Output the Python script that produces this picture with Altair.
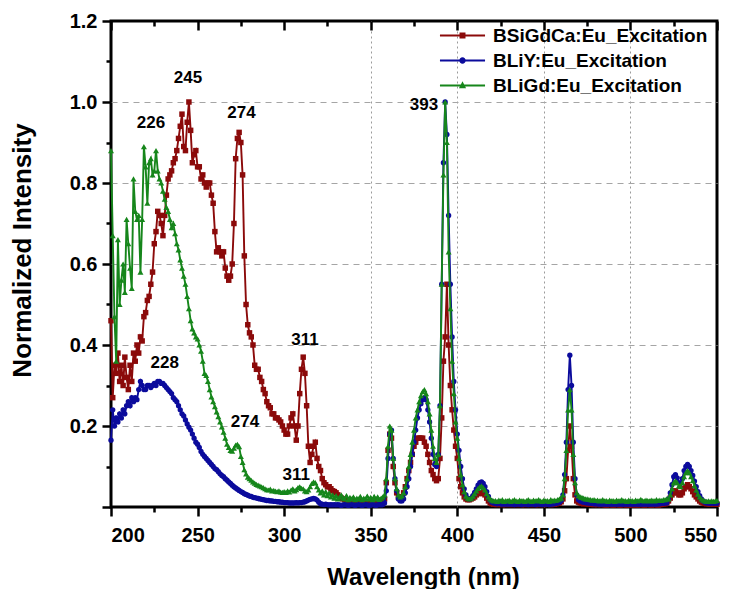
import altair as alt
import pandas as pd

FONT = "Liberation Sans"

wavelength = list(range(200, 551))

bsigdca = [
    0.46, 0.27, 0.35, 0.33, 0.38, 0.31, 0.35, 0.30, 0.37, 0.32,
    0.29, 0.35, 0.31, 0.38, 0.36, 0.40, 0.38, 0.42, 0.41, 0.47,
    0.48, 0.51, 0.52, 0.55, 0.58, 0.65, 0.68, 0.73, 0.72, 0.70,
    0.67, 0.72, 0.77, 0.81, 0.82, 0.83, 0.85, 0.86, 0.88, 0.91,
    0.94, 0.97, 0.89, 0.88, 0.95, 1.00, 0.93, 0.85, 0.87, 0.88,
    0.84, 0.84, 0.81, 0.82, 0.80, 0.79, 0.80, 0.80, 0.77, 0.75,
    0.68, 0.63, 0.64, 0.63, 0.62, 0.63, 0.59, 0.57, 0.56, 0.57,
    0.60, 0.70, 0.86, 0.91, 0.925, 0.90, 0.82, 0.62, 0.50, 0.45,
    0.43, 0.42, 0.40, 0.35, 0.34, 0.34, 0.32, 0.31, 0.29, 0.28,
    0.26, 0.25, 0.245, 0.23, 0.23, 0.22, 0.22, 0.215, 0.21, 0.20,
    0.19, 0.18, 0.18, 0.20, 0.22, 0.23, 0.20, 0.165, 0.20, 0.28,
    0.34, 0.37, 0.33, 0.25, 0.15, 0.11, 0.13, 0.15, 0.16, 0.12,
    0.10, 0.09, 0.07, 0.06, 0.055, 0.05, 0.05, 0.045, 0.04, 0.038,
    0.035, 0.03, 0.025, 0.022, 0.02, 0.018, 0.015, 0.012, 0.014, 0.011,
    0.013, 0.01, 0.012, 0.011, 0.013, 0.01, 0.012, 0.01, 0.011, 0.013,
    0.01, 0.012, 0.011, 0.01, 0.012, 0.011, 0.013, 0.015, 0.02, 0.06,
    0.14, 0.18, 0.17, 0.10, 0.06, 0.035, 0.025, 0.022, 0.025, 0.035,
    0.05, 0.07, 0.09, 0.11, 0.13, 0.15, 0.16, 0.17, 0.17, 0.17,
    0.17, 0.16, 0.15, 0.13, 0.11, 0.09, 0.08, 0.07, 0.065, 0.07,
    0.12, 0.22, 0.36, 0.42, 0.55, 0.40, 0.30, 0.24, 0.19, 0.15,
    0.12, 0.07, 0.05, 0.035, 0.025, 0.02, 0.018, 0.018, 0.02, 0.022,
    0.025, 0.03, 0.033, 0.035, 0.035, 0.033, 0.03, 0.022, 0.015, 0.01,
    0.008, 0.007, 0.008, 0.006, 0.007, 0.008, 0.006, 0.007, 0.006, 0.008,
    0.007, 0.006, 0.008, 0.007, 0.006, 0.007, 0.008, 0.006, 0.007, 0.006,
    0.008, 0.007, 0.006, 0.007, 0.008, 0.006, 0.007, 0.006, 0.008, 0.007,
    0.006, 0.007, 0.008, 0.007, 0.006, 0.008, 0.007, 0.008, 0.009, 0.01,
    0.013, 0.02, 0.04, 0.07, 0.14, 0.20, 0.15, 0.07, 0.03, 0.015,
    0.012, 0.01, 0.009, 0.008, 0.009, 0.008, 0.007, 0.008, 0.007, 0.006,
    0.007, 0.006, 0.007, 0.006, 0.007, 0.006, 0.005, 0.006, 0.007, 0.006,
    0.005, 0.006, 0.007, 0.006, 0.005, 0.006, 0.007, 0.006, 0.005, 0.006,
    0.006, 0.005, 0.007, 0.006, 0.005, 0.006, 0.007, 0.006, 0.005, 0.006,
    0.007, 0.006, 0.005, 0.006, 0.007, 0.006, 0.005, 0.006, 0.007, 0.008,
    0.008, 0.01, 0.015, 0.022, 0.03, 0.035, 0.04, 0.035, 0.03, 0.03,
    0.035, 0.045, 0.05, 0.055, 0.05, 0.045, 0.038, 0.03, 0.025, 0.02,
    0.015, 0.012, 0.01, 0.009, 0.008, 0.008, 0.007, 0.008, 0.007, 0.008,
    0.007,
]

bliy = [
    0.165, 0.24, 0.20, 0.22, 0.21, 0.23, 0.22, 0.24, 0.23, 0.25,
    0.26, 0.25, 0.27, 0.26, 0.27, 0.265, 0.29, 0.31, 0.30, 0.29,
    0.29, 0.30, 0.30, 0.295, 0.30, 0.305, 0.30, 0.31, 0.31, 0.305,
    0.305, 0.30, 0.295, 0.29, 0.285, 0.28, 0.27, 0.265, 0.26, 0.25,
    0.24, 0.23, 0.225, 0.215, 0.205, 0.197, 0.19, 0.18, 0.17, 0.16,
    0.155, 0.147, 0.137, 0.13, 0.125, 0.12, 0.115, 0.11, 0.105, 0.10,
    0.095, 0.092, 0.087, 0.082, 0.078, 0.075, 0.07, 0.066, 0.062, 0.058,
    0.054, 0.05, 0.047, 0.044, 0.041, 0.038, 0.036, 0.033, 0.031, 0.029,
    0.027, 0.026, 0.024, 0.023, 0.022, 0.021, 0.02, 0.019, 0.018, 0.017,
    0.016, 0.016, 0.015, 0.015, 0.014, 0.014, 0.013, 0.013, 0.012, 0.012,
    0.011, 0.011, 0.011, 0.01, 0.01, 0.01, 0.01, 0.011, 0.01, 0.011,
    0.011, 0.012, 0.013, 0.015, 0.017, 0.019, 0.02, 0.021, 0.02, 0.017,
    0.012, 0.008, 0.007, 0.006, 0.007, 0.006, 0.005, 0.006, 0.005, 0.006,
    0.005, 0.006, 0.005, 0.004, 0.005, 0.006, 0.005, 0.004, 0.005, 0.006,
    0.005, 0.004, 0.005, 0.006, 0.005, 0.004, 0.005, 0.006, 0.005, 0.004,
    0.005, 0.006, 0.005, 0.004, 0.005, 0.006, 0.005, 0.006, 0.01, 0.04,
    0.12, 0.18, 0.19, 0.12, 0.07, 0.04, 0.02, 0.015, 0.015, 0.02,
    0.035, 0.05, 0.07, 0.10, 0.13, 0.16, 0.19, 0.22, 0.24, 0.255,
    0.265, 0.27, 0.265, 0.24, 0.21, 0.17, 0.13, 0.105, 0.10, 0.13,
    0.25, 0.55, 0.85, 1.00, 0.92, 0.72, 0.55, 0.42, 0.31, 0.24,
    0.18, 0.14, 0.10, 0.07, 0.045, 0.03, 0.022, 0.02, 0.022, 0.028,
    0.036, 0.045, 0.054, 0.06, 0.062, 0.058, 0.05, 0.038, 0.026, 0.017,
    0.012, 0.01, 0.009, 0.008, 0.009, 0.008, 0.007, 0.008, 0.007, 0.008,
    0.007, 0.008, 0.007, 0.006, 0.007, 0.008, 0.007, 0.006, 0.007, 0.008,
    0.007, 0.006, 0.007, 0.008, 0.007, 0.006, 0.007, 0.008, 0.007, 0.006,
    0.007, 0.008, 0.007, 0.006, 0.007, 0.008, 0.008, 0.009, 0.01, 0.012,
    0.016, 0.03, 0.08, 0.16, 0.29, 0.375, 0.30, 0.16, 0.07, 0.03,
    0.018, 0.015, 0.013, 0.012, 0.011, 0.01, 0.01, 0.009, 0.009, 0.008,
    0.008, 0.008, 0.007, 0.008, 0.007, 0.008, 0.007, 0.007, 0.008, 0.007,
    0.007, 0.008, 0.007, 0.007, 0.008, 0.007, 0.007, 0.008, 0.007, 0.007,
    0.008, 0.007, 0.007, 0.008, 0.007, 0.007, 0.008, 0.007, 0.007, 0.008,
    0.007, 0.007, 0.008, 0.007, 0.008, 0.007, 0.008, 0.008, 0.009, 0.009,
    0.01, 0.01, 0.02, 0.035, 0.055, 0.075, 0.08, 0.072, 0.06, 0.058,
    0.07, 0.09, 0.10, 0.105, 0.10, 0.09, 0.078, 0.064, 0.05, 0.038,
    0.028, 0.02, 0.015, 0.012, 0.01, 0.01, 0.009, 0.01, 0.009, 0.01,
    0.009,
]

bligd = [
    0.88, 0.67, 0.47, 0.36, 0.66, 0.50, 0.56, 0.60, 0.53, 0.71,
    0.65, 0.59, 0.54, 0.81, 0.73, 0.71, 0.72, 0.58, 0.71, 0.89,
    0.84, 0.75, 0.85, 0.86, 0.82, 0.83, 0.88, 0.83, 0.81, 0.80,
    0.78, 0.76, 0.74, 0.73, 0.71, 0.69, 0.70, 0.675, 0.65, 0.635,
    0.61, 0.59, 0.57, 0.55, 0.52, 0.49, 0.46, 0.44, 0.43, 0.42,
    0.415, 0.40, 0.385, 0.36, 0.33, 0.325, 0.31, 0.29, 0.272, 0.26,
    0.248, 0.235, 0.223, 0.21, 0.198, 0.185, 0.17, 0.155, 0.147, 0.14,
    0.138, 0.145, 0.153, 0.155, 0.149, 0.125, 0.11, 0.092, 0.082, 0.074,
    0.07, 0.066, 0.062, 0.059, 0.056, 0.054, 0.052, 0.05, 0.048, 0.045,
    0.043, 0.042, 0.044, 0.04, 0.041, 0.039, 0.038, 0.04, 0.037, 0.036,
    0.038, 0.036, 0.04, 0.037, 0.042, 0.045, 0.04, 0.043, 0.048, 0.05,
    0.046, 0.045, 0.04, 0.038, 0.042, 0.05, 0.058, 0.062, 0.06, 0.05,
    0.042, 0.035, 0.04, 0.03, 0.038, 0.028, 0.035, 0.025, 0.03, 0.022,
    0.028, 0.02, 0.025, 0.03, 0.022, 0.02, 0.028, 0.018, 0.024, 0.02,
    0.025, 0.018, 0.022, 0.02, 0.026, 0.018, 0.022, 0.02, 0.027, 0.02,
    0.024, 0.018, 0.026, 0.02, 0.025, 0.019, 0.022, 0.025, 0.03, 0.07,
    0.15, 0.20, 0.19, 0.12, 0.07, 0.045, 0.03, 0.025, 0.028, 0.035,
    0.05, 0.07, 0.10, 0.13, 0.16, 0.19, 0.22, 0.24, 0.26, 0.275,
    0.285, 0.29, 0.28, 0.26, 0.23, 0.19, 0.15, 0.12, 0.11, 0.13,
    0.25, 0.55, 0.82, 1.00, 0.90, 0.63, 0.49, 0.36, 0.28, 0.21,
    0.17, 0.12, 0.08, 0.055, 0.038, 0.027, 0.022, 0.02, 0.022, 0.027,
    0.033, 0.04, 0.046, 0.05, 0.052, 0.048, 0.042, 0.033, 0.025, 0.02,
    0.017, 0.015, 0.016, 0.014, 0.017, 0.015, 0.018, 0.014, 0.016, 0.015,
    0.017, 0.014, 0.016, 0.018, 0.015, 0.014, 0.017, 0.015, 0.016, 0.014,
    0.016, 0.018, 0.015, 0.014, 0.017, 0.015, 0.016, 0.018, 0.015, 0.014,
    0.017, 0.015, 0.016, 0.014, 0.018, 0.015, 0.017, 0.016, 0.018, 0.02,
    0.022, 0.03, 0.07, 0.14, 0.24, 0.29, 0.24, 0.13, 0.06, 0.035,
    0.028, 0.025, 0.024, 0.022, 0.02, 0.02, 0.019, 0.018, 0.017, 0.018,
    0.016, 0.017, 0.015, 0.016, 0.018, 0.015, 0.016, 0.014, 0.017, 0.015,
    0.016, 0.014, 0.017, 0.015, 0.016, 0.018, 0.015, 0.016, 0.014, 0.017,
    0.015, 0.016, 0.014, 0.017, 0.015, 0.016, 0.019, 0.016, 0.015, 0.017,
    0.016, 0.015, 0.017, 0.016, 0.015, 0.018, 0.016, 0.017, 0.016, 0.018,
    0.018, 0.02, 0.02, 0.03, 0.045, 0.06, 0.065, 0.06, 0.052, 0.05,
    0.06, 0.075, 0.085, 0.09, 0.085, 0.075, 0.065, 0.053, 0.042, 0.032,
    0.025, 0.02, 0.017, 0.015, 0.014, 0.015, 0.014, 0.015, 0.014, 0.015,
    0.016,
]

series_names = ["BSiGdCa:Eu_Excitation", "BLiY:Eu_Excitation", "BLiGd:Eu_Excitation"]
series_colors = ["#8b0a0a", "#0b0b9c", "#16861b"]
marker_shapes = ["square", "circle", "triangle-up"]
marker_sizes = [30, 28, 36]

# legend symbols: a short line with the series marker in its middle
legend_paths = [
    "M-1.96,-0.09H1.96V0.09H-1.96Z M-0.26,-0.26H0.26V0.26H-0.26Z",
    "M-1.96,-0.09H1.96V0.09H-1.96Z M0.28,0A0.28,0.28,0,1,1,-0.28,0A0.28,0.28,0,1,1,0.28,0Z",
    "M-1.96,-0.09H1.96V0.09H-1.96Z M0,-0.36L0.31,0.24H-0.31Z",
]

ann_x = [244.5, 223.1, 275.4, 312.0, 231.0, 277.4, 307.0, 380.8]
ann_y = [1.06, 0.948, 0.973, 0.412, 0.355, 0.21, 0.079, 0.993]
ann_text = ["245", "226", "274", "311", "228", "274", "311", "393"]

x_ticks = list(range(200, 551, 25))
x_major = list(range(200, 551, 50))
x_minor = list(range(225, 550, 50))
y_ticks = [round(i * 0.1, 1) for i in range(0, 13)]

rows = []
for name, vals in zip(series_names, [bsigdca, bliy, bligd]):
    assert len(vals) == len(wavelength), (name, len(vals))
    for w, v in zip(wavelength, vals):
        rows.append({"wl": w, "val": v, "series": name})
df = pd.DataFrame(rows)
ann_df = pd.DataFrame({"x": ann_x, "y": ann_y, "label": ann_text})

xscale = alt.Scale(domain=[200, 550], nice=False, zero=False)
yscale = alt.Scale(domain=[0, 1.2], nice=False, zero=True)

x_axis = alt.Axis(
    values=x_ticks,
    labelExpr="datum.value % 50 === 0 ? datum.label : ''",
    tickSize={"condition": {"test": "datum.value % 50 === 0", "value": 9}, "value": 5},
    grid=True,
    gridOpacity={"condition": {"test": "datum.value % 50 === 0 && datum.value >= 350 && datum.value <= 500", "value": 1}, "value": 0},
    gridDash=[2, 3],
    gridColor="#9a9a9a",
    gridWidth=1,
    labelFontSize=20,
    labelPadding=9,
    title="Wavelength (nm)",
    titleFontSize=24,
    titleX=312,
    titleY=77,
    titleAlign="center",
    titleBaseline="alphabetic",
)

y_axis = alt.Axis(
    values=y_ticks,
    labelExpr="(round(datum.value * 10) % 2 === 0 && datum.value > 0.01) ? format(datum.value, '.1f') : ''",
    tickSize={"condition": {"test": "round(datum.value * 10) % 2 === 0", "value": 9}, "value": 5},
    grid=True,
    gridOpacity={"condition": {"test": "round(datum.value * 10) % 2 === 0 && datum.value > 0.01 && datum.value < 1.1", "value": 1}, "value": 0},
    gridDash=[6, 5],
    gridColor="#a5a5a5",
    gridWidth=1,
    labelFontSize=20,
    labelPadding=5,
    title="Normalized Intensity",
    titleFontSize=26,
    titleX=-81,
    titleY=229,
    titleAngle=-90,
    titleAlign="center",
    titleBaseline="alphabetic",
)

# inner ticks on the top frame (axis pulled inside the frame)
top_major_axis = alt.Axis(
    orient="top", values=x_major, labels=False, title=None, grid=False,
    domain=False, tickSize=9, offset=-9,
)
top_minor_axis = alt.Axis(
    orient="top", values=x_minor, labels=False, title=None, grid=False,
    domain=False, tickSize=5, offset=-5,
)

base = alt.Chart(df)
layers = []
for i, (name, col, shp, sz) in enumerate(zip(series_names, series_colors, marker_shapes, marker_sizes)):
    sub = base.transform_filter(alt.datum.series == name)
    line = sub.mark_line(color=col, strokeWidth=1.9).encode(
        x=alt.X("wl:Q", scale=xscale, axis=x_axis if i == 0 else None),
        y=alt.Y("val:Q", scale=yscale, axis=y_axis if i == 0 else None),
    )
    pts = sub.mark_point(filled=True, shape=shp, size=sz, color=col, opacity=1).encode(
        x=alt.X("wl:Q", scale=xscale, axis=None),
        y=alt.Y("val:Q", scale=yscale, axis=None),
    )
    layers += [line, pts]

legend_kw = dict(
    title=None,
    orient="none",
    legendX=340,
    legendY=3,
    direction="vertical",
    labelFont=FONT,
    labelFontSize=19,
    labelFontWeight="bold",
    labelColor="black",
    labelLimit=400,
    symbolSize=529,
    symbolStrokeWidth=0,
    symbolOpacity=1,
    labelOffset=19,
    rowPadding=3,
    padding=0,
)

legend_layer = base.mark_point(filled=True, opacity=0).encode(
    x=alt.X("wl:Q", scale=xscale, axis=top_major_axis),
    y=alt.Y("val:Q", scale=yscale, axis=None),
    color=alt.Color("series:N", scale=alt.Scale(domain=series_names, range=series_colors), legend=alt.Legend(**legend_kw)),
    shape=alt.Shape("series:N", scale=alt.Scale(domain=series_names, range=legend_paths), legend=alt.Legend(**legend_kw)),
)

text_layer = alt.Chart(ann_df).mark_text(
    font=FONT, fontSize=17, fontWeight="bold", color="black", align="center", baseline="middle"
).encode(
    x=alt.X("x:Q", scale=xscale, axis=top_minor_axis),
    y=alt.Y("y:Q", scale=yscale, axis=None),
    text="label:N",
)

chart = alt.layer(*layers, legend_layer, text_layer).resolve_axis(
    x="independent", y="independent"
).properties(
    width=606,
    height=486,
    padding={"left": 111, "top": 21, "right": 20, "bottom": 82},
    autosize=alt.AutoSizeParams(type="none"),
    background="white",
).configure_view(
    stroke="black", strokeWidth=3
).configure_axis(
    labelFont=FONT,
    titleFont=FONT,
    labelFontWeight="bold",
    titleFontWeight="bold",
    labelColor="black",
    titleColor="black",
    tickColor="black",
    tickWidth=2.5,
    domain=False,
)

chart.save("out.html", embed_options={"renderer": "svg", "actions": False})
